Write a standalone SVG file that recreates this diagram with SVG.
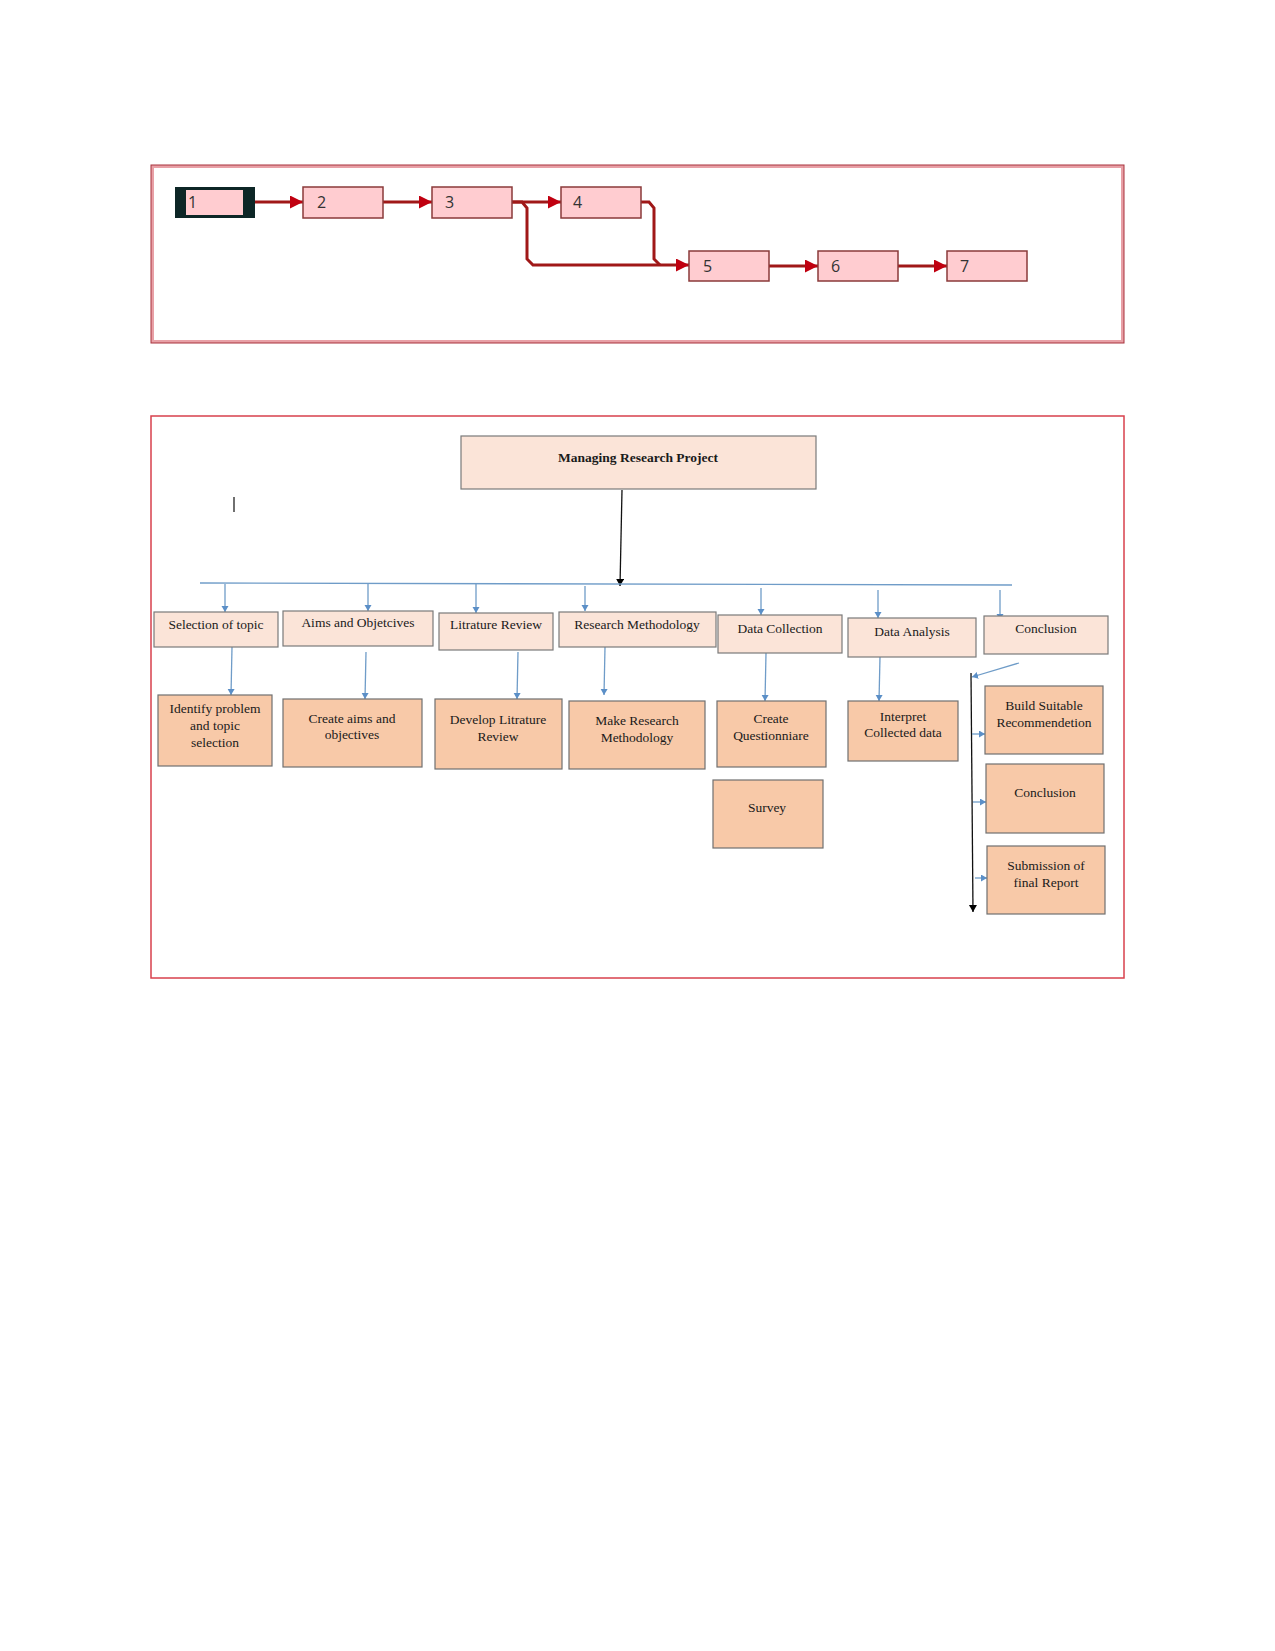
<svg xmlns="http://www.w3.org/2000/svg" width="1275" height="1651" viewBox="0 0 1275 1651">
<defs>
<style>
.frame1{fill:none;stroke:#e8a0a6;stroke-width:3}
.frame1o{fill:none;stroke:#a8323c;stroke-width:1}
.frame2{fill:none;stroke:#d8404c;stroke-width:1.5}
.pn{fill:#ffccd0;stroke:#8a3a3a;stroke-width:1.5}
.pt{font-family:"Open Sans","DejaVu Sans",sans-serif;font-size:16px;fill:#333}
.rl{fill:none;stroke:#a01818;stroke-width:3}
.l1{fill:#fbe4d8;stroke:#7a7a7a;stroke-width:1.2}
.l2{fill:#f8c9a8;stroke:#707070;stroke-width:1.2}
.t{font-family:"Liberation Serif","Times New Roman",serif;font-size:13.5px;fill:#1a1a1a;text-anchor:middle}
.tb{font-family:"Liberation Serif","Times New Roman",serif;font-size:13.5px;font-weight:bold;fill:#1a1a1a;text-anchor:middle}
.bl{fill:none;stroke:#6f9cc8;stroke-width:1.3}
.bk{fill:none;stroke:#111;stroke-width:1.3}
</style>
<marker id="ra" markerUnits="userSpaceOnUse" markerWidth="14" markerHeight="14" refX="13" refY="6.5" orient="auto">
<path d="M0,0 L13,6.5 L0,13 z" fill="#c00010"/>
</marker>
<marker id="ba" markerUnits="userSpaceOnUse" markerWidth="8" markerHeight="8" refX="6" refY="3.5" orient="auto">
<path d="M0,0 L6,3.5 L0,7 z" fill="#5b8fc7"/>
</marker>
<marker id="ka" markerUnits="userSpaceOnUse" markerWidth="9" markerHeight="9" refX="7" refY="4" orient="auto">
<path d="M0,0 L7,4 L0,8 z" fill="#000"/>
</marker>
</defs>
<rect width="1275" height="1651" fill="#fff"/>

<!-- Top network diagram -->
<rect class="frame1" x="152.5" y="166.5" width="970" height="175"/>
<rect class="frame1o" x="151" y="165" width="973" height="178"/>

<g id="connectors-top">
<path class="rl" d="M255,202 H303" marker-end="url(#ra)"/>
<path class="rl" d="M383,202 H432" marker-end="url(#ra)"/>
<path class="rl" d="M512,202 H561" marker-end="url(#ra)"/>
<path class="rl" d="M512,202 H522 L527,208 V259 L533,265 H689" marker-end="url(#ra)"/>
<path class="rl" d="M640,202 H649 L654,208 V259 L660,265"/>
<path class="rl" d="M769,266 H818" marker-end="url(#ra)"/>
<path class="rl" d="M898,266 H947" marker-end="url(#ra)"/>
</g>

<g id="p1">
<rect x="175" y="187" width="80" height="31" fill="#0d2626"/>
<rect x="186" y="190" width="57" height="25" fill="#ffccd0"/>
<text class="pt" x="188" y="208">1</text>
</g>
<g id="p2"><rect class="pn" x="303" y="187" width="80" height="31"/><text class="pt" x="317" y="208">2</text></g>
<g id="p3"><rect class="pn" x="432" y="187" width="80" height="31"/><text class="pt" x="445" y="208">3</text></g>
<g id="p4"><rect class="pn" x="561" y="187" width="80" height="31"/><text class="pt" x="573" y="208">4</text></g>
<g id="p5"><rect class="pn" x="689" y="251" width="80" height="30"/><text class="pt" x="703" y="272">5</text></g>
<g id="p6"><rect class="pn" x="818" y="251" width="80" height="30"/><text class="pt" x="831" y="272">6</text></g>
<g id="p7"><rect class="pn" x="947" y="251" width="80" height="30"/><text class="pt" x="960" y="272">7</text></g>

<!-- Bottom WBS diagram -->
<rect class="frame2" x="151" y="416" width="973" height="562"/>
<line x1="234" y1="497" x2="234" y2="512" stroke="#222" stroke-width="1.3"/>

<g id="connectors-wbs">
<path class="bk" d="M622,490 L620,586" marker-end="url(#ka)"/>
<path class="bl" d="M200,583 L1012,585"/>
<path class="bl" d="M225,584 V612" marker-end="url(#ba)"/>
<path class="bl" d="M368,584 V611" marker-end="url(#ba)"/>
<path class="bl" d="M476,584 V613" marker-end="url(#ba)"/>
<path class="bl" d="M585,586 V611" marker-end="url(#ba)"/>
<path class="bl" d="M761,588 V615" marker-end="url(#ba)"/>
<path class="bl" d="M878,590 V618" marker-end="url(#ba)"/>
<path class="bl" d="M1000,590 V620" marker-end="url(#ba)"/>
<path class="bl" d="M232,647 L231,695" marker-end="url(#ba)"/>
<path class="bl" d="M366,652 L365,699" marker-end="url(#ba)"/>
<path class="bl" d="M518,652 L517,699" marker-end="url(#ba)"/>
<path class="bl" d="M605,647 L604,695" marker-end="url(#ba)"/>
<path class="bl" d="M766,653 L765,701" marker-end="url(#ba)"/>
<path class="bl" d="M880,657 L879,701" marker-end="url(#ba)"/>
<path class="bl" d="M1019,663 L972,677" marker-end="url(#ba)"/>
<path class="bk" d="M971,673 L973,912" marker-end="url(#ka)"/>
<path class="bl" d="M972,734 H985" marker-end="url(#ba)"/>
<path class="bl" d="M973,802 H986" marker-end="url(#ba)"/>
<path class="bl" d="M975,878 H987" marker-end="url(#ba)"/>
</g>

<g id="root"><rect class="l1" x="461" y="436" width="355" height="53"/><text class="tb" x="638" y="462">Managing Research Project</text></g>

<g id="selection"><rect class="l1" x="154" y="612" width="124" height="35"/><text class="t" x="216" y="629">Selection of topic</text></g>
<g id="aims"><rect class="l1" x="283" y="611" width="150" height="35"/><text class="t" x="358" y="627">Aims and Objetcives</text></g>
<g id="litrature"><rect class="l1" x="439" y="613" width="114" height="37"/><text class="t" x="496" y="629">Litrature Review</text></g>
<g id="methodology"><rect class="l1" x="559" y="612" width="157" height="35"/><text class="t" x="637" y="629">Research Methodology</text></g>
<g id="datacollection"><rect class="l1" x="718" y="615" width="124" height="38"/><text class="t" x="780" y="633">Data Collection</text></g>
<g id="dataanalysis"><rect class="l1" x="848" y="618" width="128" height="39"/><text class="t" x="912" y="636">Data Analysis</text></g>
<g id="conclusion1"><rect class="l1" x="984" y="616" width="124" height="38"/><text class="t" x="1046" y="633">Conclusion</text></g>

<g id="identify"><rect class="l2" x="158" y="695" width="114" height="71"/><text class="t" x="215" y="713">Identify problem</text><text class="t" x="215" y="730">and topic</text><text class="t" x="215" y="747">selection</text></g>
<g id="createaims"><rect class="l2" x="283" y="699" width="139" height="68"/><text class="t" x="352" y="723">Create aims and</text><text class="t" x="352" y="739">objectives</text></g>
<g id="develop"><rect class="l2" x="435" y="699" width="127" height="70"/><text class="t" x="498" y="724">Develop Litrature</text><text class="t" x="498" y="741">Review</text></g>
<g id="make"><rect class="l2" x="569" y="701" width="136" height="68"/><text class="t" x="637" y="725">Make Research</text><text class="t" x="637" y="742">Methodology</text></g>
<g id="questionnaire"><rect class="l2" x="717" y="701" width="109" height="66"/><text class="t" x="771" y="723">Create</text><text class="t" x="771" y="740">Questionniare</text></g>
<g id="survey"><rect class="l2" x="713" y="780" width="110" height="68"/><text class="t" x="767" y="812">Survey</text></g>
<g id="interpret"><rect class="l2" x="848" y="701" width="110" height="60"/><text class="t" x="903" y="721">Interpret</text><text class="t" x="903" y="737">Collected data</text></g>
<g id="recommend"><rect class="l2" x="985" y="686" width="118" height="68"/><text class="t" x="1044" y="710">Build Suitable</text><text class="t" x="1044" y="727">Recommendetion</text></g>
<g id="conclusion2"><rect class="l2" x="986" y="764" width="118" height="69"/><text class="t" x="1045" y="797">Conclusion</text></g>
<g id="submission"><rect class="l2" x="987" y="846" width="118" height="68"/><text class="t" x="1046" y="870">Submission of</text><text class="t" x="1046" y="887">final Report</text></g>
</svg>
